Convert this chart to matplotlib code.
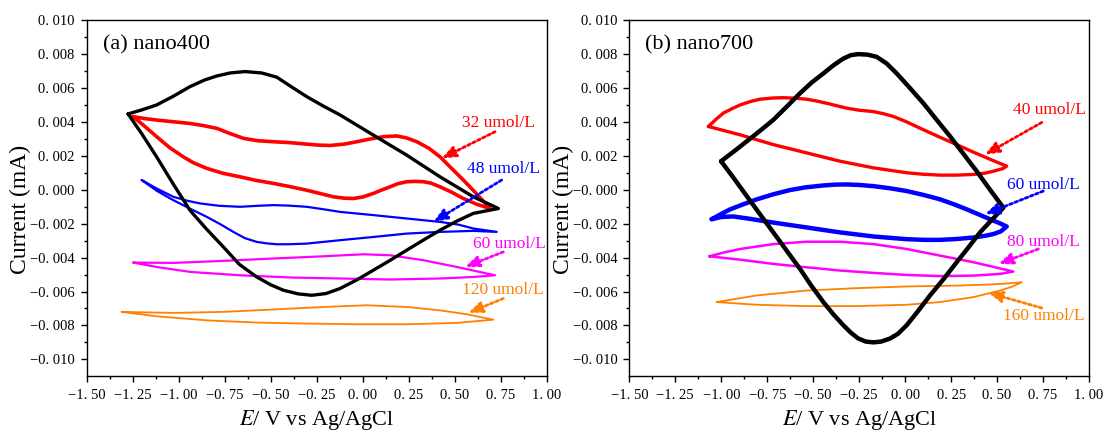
import matplotlib.pyplot as plt

plt.rcParams['mathtext.fontset'] = 'stix'

RED, BLUE, MAG, ORA = '#ff0000', '#0000ff', '#ff00ff', '#ff8000'

# ---- panel (a) nano400 : each loop = upper branch (left->right) then lower branch back
a_black_x = [-1.275, -1.20, -1.12, -1.03, -0.939, -0.86, -0.793, -0.72, -0.640, -0.55, -0.467, -0.39, -0.304, -0.21,
             -0.123, 0.058, 0.239, 0.420, 0.601, 0.737,
             0.67, 0.601, 0.51, 0.420, 0.33, 0.239, 0.15, 0.058, -0.03, -0.123, -0.20, -0.277, -0.35, -0.432,
             -0.50, -0.576, -0.67, -0.758, -0.85, -0.939, -1.03, -1.12, -1.20, -1.275]
a_black_y = [0.00448, 0.00472, 0.00501, 0.00552, 0.00609, 0.00648, 0.00672, 0.00690, 0.00698, 0.00690, 0.00665, 0.00610,
             0.00550, 0.00492, 0.00442, 0.00323, 0.00205, 0.00077, -0.00041, -0.00110,
             -0.00124, -0.00139, -0.00185, -0.00238, -0.00296, -0.00356, -0.00415, -0.00474, -0.00530, -0.00582,
             -0.00612, -0.00622, -0.00614, -0.00592, -0.00560, -0.00514, -0.00440, -0.00336, -0.00230, -0.00120,
             0.00035, 0.00195, 0.00330, 0.00448]

a_red_x = [-1.248, -1.18, -1.12, -1.03, -0.939, -0.86, -0.793, -0.72, -0.648, -0.57, -0.485, -0.40, -0.304, -0.24,
           -0.177, -0.10, -0.032, 0.04, 0.113, 0.185, 0.24, 0.294, 0.36, 0.420, 0.48, 0.547, 0.62, 0.692,
           0.62, 0.547, 0.48, 0.420, 0.37, 0.330, 0.28, 0.239, 0.19, 0.149, 0.10, 0.058, 0.0, -0.050, -0.10,
           -0.159, -0.23, -0.304, -0.40, -0.485, -0.58, -0.667, -0.76, -0.848, -0.92, -0.975, -1.05, -1.12,
           -1.19, -1.248]
a_red_y = [0.00432, 0.00420, 0.00412, 0.00402, 0.00392, 0.00378, 0.00363, 0.00332, 0.00304, 0.00290, 0.00284, 0.00279,
           0.00270, 0.00264, 0.00262, 0.00270, 0.00284, 0.00300, 0.00314, 0.00318, 0.00306, 0.00284, 0.00245,
           0.00195, 0.00130, 0.00058, -0.00025, -0.00110,
           -0.00085, -0.00051, -0.00012, 0.00018, 0.00040, 0.00048, 0.00050, 0.00048, 0.00036, 0.00018, -0.00002,
           -0.00021, -0.00042, -0.00051, -0.00049, -0.00041, -0.00022, -0.00002, 0.00020, 0.00038, 0.00056,
           0.00077, 0.00098, 0.00127, 0.00160, 0.00195, 0.00250, 0.00314, 0.00380, 0.00432]

a_blue_x = [-1.201, -1.12, -1.029, -0.95, -0.884, -0.78, -0.667, -0.57, -0.485, -0.40, -0.304, -0.21, -0.123, 0.058,
            0.239, 0.420, 0.52, 0.601, 0.728,
            0.601, 0.420, 0.239, 0.058, -0.123, -0.304, -0.40, -0.467, -0.52, -0.576, -0.64, -0.703, -0.77,
            -0.848, -0.94, -1.029, -1.12, -1.201]
a_blue_y = [0.00058, 0.00008, -0.00041, -0.00065, -0.00080, -0.00094, -0.00100, -0.00094, -0.00090, -0.00093,
            -0.00100, -0.00115, -0.00130, -0.00149, -0.00169, -0.00189, -0.00205, -0.00228, -0.00248,
            -0.00242, -0.00248, -0.00258, -0.00278, -0.00297, -0.00317, -0.00321, -0.00321, -0.00316, -0.00307,
            -0.00285, -0.00248, -0.00205, -0.00159, -0.00110, -0.00061, -0.00005, 0.00058]

a_mag_x = [-1.247, -1.029, -0.758, -0.485, -0.213, 0.004, 0.149, 0.330, 0.511, 0.719,
           0.601, 0.420, 0.149, -0.123, -0.395, -0.667, -0.939, -1.12, -1.247]
a_mag_y = [-0.00429, -0.00431, -0.00419, -0.00405, -0.00392, -0.00380, -0.00386, -0.00415, -0.00455, -0.00504,
           -0.00514, -0.00523, -0.00529, -0.00523, -0.00517, -0.00504, -0.00484, -0.00455, -0.00429]

a_ora_x = [-1.310, -1.029, -0.758, -0.485, -0.213, 0.022, 0.239, 0.420, 0.565, 0.710,
           0.511, 0.239, -0.032, -0.304, -0.576, -0.848, -1.12, -1.310]
a_ora_y = [-0.00720, -0.00726, -0.00720, -0.00706, -0.00691, -0.00681, -0.00691, -0.00711, -0.00734, -0.00766,
           -0.00785, -0.00793, -0.00793, -0.00789, -0.00783, -0.00770, -0.00746, -0.00720]

# ---- panel (b) nano700
b_black_x = [-1.001, -0.93, -0.862, -0.79, -0.717, -0.645, -0.572, -0.51, -0.445, -0.39, -0.336, -0.295, -0.255,
             -0.205, -0.155, -0.10, -0.046, 0.025, 0.099, 0.17, 0.244, 0.315, 0.389, 0.46, 0.534,
             0.47, 0.407, 0.345, 0.280, 0.21, 0.135, 0.07, 0.008, -0.04, -0.082, -0.13, -0.173, -0.215, -0.255,
             -0.295, -0.336, -0.39, -0.445, -0.51, -0.572, -0.645, -0.717, -0.79, -0.862, -0.93, -1.001]
b_black_y = [0.00169, 0.00228, 0.00286, 0.00348, 0.00413, 0.00490, 0.00570, 0.00632, 0.00687, 0.00735, 0.00775,
             0.00795, 0.00801, 0.00798, 0.00785, 0.00745, 0.00687, 0.00602, 0.00511, 0.00415, 0.00316, 0.00215,
             0.00110, 0.00003, -0.00105,
             -0.00178, -0.00251, -0.00338, -0.00427, -0.00525, -0.00623, -0.00715, -0.00799, -0.00850, -0.00877,
             -0.00895, -0.00900, -0.00895, -0.00877, -0.00843, -0.00799, -0.00735, -0.00662, -0.00566, -0.00466,
             -0.00358, -0.00251, -0.00143, -0.00036, 0.00066, 0.00169]

b_red_x = [-1.070, -1.03, -0.989, -0.94, -0.898, -0.84, -0.789, -0.72, -0.663, -0.60, -0.535, -0.48, -0.427, -0.37,
           -0.318, -0.25, -0.173, -0.12, -0.064, 0.0, 0.099, 0.19, 0.280, 0.36, 0.443, 0.50, 0.552,
           0.53, 0.479, 0.43, 0.371, 0.28, 0.190, 0.10, 0.008, -0.173, -0.354, -0.535, -0.717, -0.898, -1.070]
b_red_y = [0.00374, 0.00415, 0.00453, 0.00480, 0.00501, 0.00522, 0.00535, 0.00542, 0.00544, 0.00541, 0.00535,
           0.00524, 0.00511, 0.00496, 0.00482, 0.00470, 0.00462, 0.00450, 0.00433, 0.00405, 0.00355, 0.00310,
           0.00267, 0.00228, 0.00189, 0.00163, 0.00140,
           0.00125, 0.00110, 0.00098, 0.00091, 0.00087, 0.00087, 0.00092, 0.00101, 0.00130, 0.00169, 0.00218,
           0.00267, 0.00325, 0.00374]

b_blue_x = [-1.052, -1.0, -0.952, -0.88, -0.807, -0.72, -0.626, -0.54, -0.445, -0.38, -0.318, -0.25, -0.173, -0.08,
            0.008, 0.10, 0.190, 0.26, 0.335, 0.40, 0.461, 0.51, 0.552,
            0.52, 0.479, 0.43, 0.371, 0.28, 0.190, 0.10, 0.008, -0.173, -0.354, -0.535, -0.717, -0.85, -0.934,
            -1.0, -1.052]
b_blue_y = [-0.00173, -0.00142, -0.00115, -0.00085, -0.00056, -0.00027, -0.00001, 0.00015, 0.00026, 0.00031,
            0.00032, 0.00029, 0.00022, 0.00009, -0.00007, -0.00030, -0.00056, -0.00083, -0.00115, -0.00145,
            -0.00173, -0.00195, -0.00216,
            -0.00245, -0.00261, -0.00272, -0.00281, -0.00290, -0.00295, -0.00295, -0.00291, -0.00275, -0.00251,
            -0.00222, -0.00193, -0.00170, -0.00157, -0.00160, -0.00173]

b_mag_x = [-1.065, -0.98, -0.898, -0.717, -0.535, -0.354, -0.173, 0.008, 0.190, 0.371, 0.588,
           0.516, 0.371, 0.190, 0.008, -0.173, -0.354, -0.535, -0.717, -0.898, -1.065]
b_mag_y = [-0.00392, -0.00368, -0.00349, -0.00320, -0.00306, -0.00306, -0.00320, -0.00349, -0.00388, -0.00427,
           -0.00482, -0.00496, -0.00506, -0.00509, -0.00502, -0.00490, -0.00476, -0.00457, -0.00437, -0.00412,
           -0.00392]

b_ora_x = [-1.025, -0.807, -0.535, -0.264, 0.008, 0.280, 0.461, 0.55, 0.634,
           0.58, 0.516, 0.371, 0.190, 0.008, -0.264, -0.535, -0.807, -1.025]
b_ora_y = [-0.00662, -0.00623, -0.00594, -0.00580, -0.00570, -0.00565, -0.00558, -0.00553, -0.00545,
           -0.00572, -0.00594, -0.00633, -0.00662, -0.00678, -0.00686, -0.00686, -0.00678, -0.00662]

# labels: (text, text pos, arrow tail, arrow head)
a_notes = [('32 umol/L', (0.538, 0.00394), (0.719, 0.00343), (0.429, 0.00186)),
           ('48 umol/L', (0.565, 0.00121), (0.755, 0.00058), (0.384, -0.00189)),
           ('60 umol/L', (0.601, -0.00321), (0.764, -0.00366), (0.556, -0.00455)),
           ('120 umol/L', (0.538, -0.00592), (0.764, -0.00641), (0.574, -0.00726))]
b_notes = [('40 umol/L', (0.585, 0.00472), (0.743, 0.00398), (0.434, 0.00208)),
           ('60 umol/L', (0.552, 0.00026), (0.751, -0.00007), (0.434, -0.00144)),
           ('80 umol/L', (0.552, -0.00306), (0.724, -0.00349), (0.507, -0.00437)),
           ('160 umol/L', (0.534, -0.00746), (0.743, -0.00697), (0.452, -0.00607))]

xticks = [-1.5, -1.25, -1.0, -0.75, -0.5, -0.25, 0.0, 0.25, 0.5, 0.75, 1.0]
xticklabels = ['\u22121. 50', '\u22121. 25', '\u22121. 00', '\u22120. 75', '\u22120. 50', '\u22120. 25',
               '0. 00', '0. 25', '0. 50', '0. 75', '1. 00']
yticks = [0.010, 0.008, 0.006, 0.004, 0.002, 0.0, -0.002, -0.004, -0.006, -0.008, -0.010]
a_yticklabels = ['0. 010', '0. 008', '0. 006', '0. 004', '0. 002', '0. 000',
                 '\u22120. 002', '\u22120. 004', '\u22120. 006', '\u22120. 008', '\u22120. 010']
b_yticklabels = a_yticklabels[:5] + ['\u22120. 000'] + a_yticklabels[6:]

serif = 'Liberation Serif'

fig = plt.figure(figsize=(11.07, 4.34), dpi=100)
ax_a = fig.add_axes([0.0783, 0.133, 0.4156, 0.820])
ax_b = fig.add_axes([0.5685, 0.133, 0.4153, 0.820])

panels = [
    (ax_a, '(a) nano400', a_yticklabels, a_notes,
     [(a_ora_x, a_ora_y, ORA, 1.3), (a_mag_x, a_mag_y, MAG, 1.6), (a_blue_x, a_blue_y, BLUE, 1.6),
      (a_red_x, a_red_y, RED, 2.6), (a_black_x, a_black_y, 'black', 2.4)]),
    (ax_b, '(b) nano700', b_yticklabels, b_notes,
     [(b_ora_x, b_ora_y, ORA, 1.3), (b_mag_x, b_mag_y, MAG, 1.8), (b_blue_x, b_blue_y, BLUE, 3.2),
      (b_red_x, b_red_y, RED, 2.4), (b_black_x, b_black_y, 'black', 3.2)]),
]
note_colors = [RED, BLUE, MAG, ORA]

for ax, title, ylabs, notes, curves in panels:
    for xs, ys, c, lw in curves:
        ax.plot(xs, ys, color=c, lw=lw, solid_joinstyle='round', solid_capstyle='round')
    for (txt, tpos, tail, head), c in zip(notes, note_colors):
        ax.text(tpos[0], tpos[1], txt, color=c, fontsize=12.5, family=serif,
                ha='left', va='center', clip_on=False)
        ax.annotate('', xy=head, xytext=tail, annotation_clip=False,
                    arrowprops=dict(arrowstyle='-|>,head_length=0.55,head_width=0.22', mutation_scale=15,
                                    ls=(0, (1, 1)), lw=2, color=c, shrinkA=0, shrinkB=0))
    ax.text(0.035, 0.93, title, transform=ax.transAxes, fontsize=16, family=serif,
            ha='left', va='center')
    ax.set_xlim(-1.5, 1.0)
    ax.set_ylim(-0.011, 0.010)
    ax.set_xticks(xticks, xticklabels, fontfamily=serif, fontsize=10.5)
    ax.set_yticks(yticks, ylabs, fontfamily=serif, fontsize=10.5)
    ax.set_xticks([-1.375 + 0.25 * i for i in range(10)], minor=True)
    ax.set_yticks([0.009 - 0.002 * i for i in range(10)], minor=True)
    ax.tick_params(which='major', direction='out', length=4.5, width=1, pad=4)
    ax.tick_params(which='minor', direction='out', length=2.5, width=1)
    ax.tick_params(axis='x', which='major', pad=5)
    ax.tick_params(top=False, right=False)
    for sp in ax.spines.values():
        sp.set_linewidth(1.0)
    ax.set_xlabel(r'$E$/ V vs Ag/AgCl', fontsize=16, family=serif, labelpad=4)
    ax.set_ylabel('Current (mA)', fontsize=17, family=serif)
    ax.yaxis.set_label_coords(-0.12, 0.47)

fig.savefig('out.png', dpi=100)
